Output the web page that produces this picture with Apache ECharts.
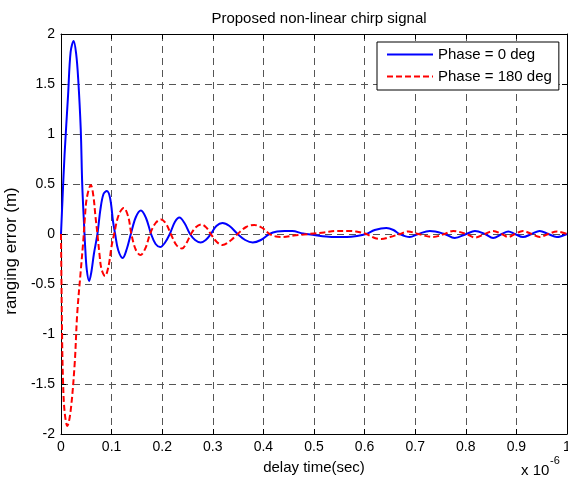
<!DOCTYPE html>
<html>
<head>
<meta charset="utf-8">
<script src="https://cdn.jsdelivr.net/npm/echarts@6/dist/echarts.min.js"></script>
<style>
  html, body { margin: 0; padding: 0; background: #fff; }
  #chart { width: 568px; height: 482px; }
</style>
</head>
<body>
<div id="chart"></div>
<script>
// delay time (x 1e-6 s) and ranging error (m)
var timeBlue = [0, 0.003, 0.007, 0.014, 0.019, 0.025, 0.030, 0.034, 0.039, 0.042, 0.0456, 0.048, 0.051, 0.0556, 0.060, 0.065, 0.072,
  0.078, 0.084, 0.0906, 0.097, 0.103, 0.107, 0.113, 0.122, 0.130, 0.138, 0.148, 0.158, 0.168, 0.178, 0.187, 0.196, 0.205, 0.215,
  0.225, 0.234, 0.244, 0.255, 0.265, 0.276, 0.286, 0.296, 0.307, 0.319, 0.333, 0.349, 0.364, 0.379, 0.395, 0.412, 0.427, 0.442,
  0.457, 0.478, 0.50, 0.524, 0.545, 0.565, 0.585, 0.603, 0.62, 0.643, 0.657, 0.669, 0.689, 0.706, 0.729, 0.758, 0.778, 0.801,
  0.818, 0.838, 0.854, 0.871, 0.884, 0.897, 0.913, 0.930, 0.946, 0.963, 0.980, 1.0];
var errBlue = [0, 0.35, 0.79, 1.39, 1.82, 1.93, 1.80, 1.55, 1.05, 0.49, 0.09, -0.15, -0.36, -0.47, -0.38, -0.2, 0,
  0.25, 0.40, 0.43, 0.36, 0.12, 0, -0.16, -0.24, -0.15, 0, 0.17, 0.235, 0.16, 0, -0.10, -0.13, -0.09, 0,
  0.12, 0.165, 0.11, 0, -0.06, -0.085, -0.06, 0, 0.08, 0.11, 0.08, 0, -0.06, -0.085, -0.06, 0, 0.025, 0.03,
  0.03, 0.005, -0.01, -0.025, -0.03, -0.03, -0.02, 0, 0.04, 0.06, 0.04, 0, -0.03, 0, 0.03, 0, -0.04, 0,
  0.03, 0, -0.04, 0, 0.025, 0, -0.03, 0, 0.03, 0, -0.03, 0];

var timeRed = [0, 0.002, 0.004, 0.007, 0.0125, 0.019, 0.027, 0.032, 0.039, 0.044, 0.047, 0.051, 0.059, 0.064, 0.068, 0.072,
  0.076, 0.080, 0.087, 0.094, 0.100, 0.105, 0.114, 0.124, 0.133, 0.139, 0.148, 0.157, 0.167, 0.176, 0.187, 0.198, 0.208, 0.217,
  0.228, 0.239, 0.248, 0.257, 0.267, 0.278, 0.288, 0.296, 0.308, 0.319, 0.334, 0.349, 0.366, 0.382, 0.398, 0.412, 0.425, 0.438,
  0.46, 0.48, 0.50, 0.52, 0.544, 0.565, 0.583, 0.603, 0.62, 0.633, 0.650, 0.67, 0.686, 0.706, 0.735, 0.758, 0.775, 0.801,
  0.818, 0.838, 0.854, 0.871, 0.884, 0.897, 0.913, 0.930, 0.946, 0.963, 0.980, 1.0];
var errRed = [0, -0.97, -1.47, -1.77, -1.92, -1.77, -1.3, -0.8, -0.37, -0.07, 0.15, 0.36, 0.49, 0.38, 0.18, 0,
  -0.2, -0.35, -0.42, -0.32, -0.12, 0, 0.19, 0.26, 0.17, 0, -0.16, -0.21, -0.14, 0, 0.11, 0.145, 0.10, 0,
  -0.11, -0.145, -0.09, 0, 0.07, 0.095, 0.06, 0, -0.08, -0.11, -0.07, 0, 0.07, 0.09, 0.06, 0, -0.025, -0.03,
  -0.015, -0.005, 0.005, 0.015, 0.03, 0.03, 0.025, 0, -0.04, -0.05, -0.03, 0, 0.025, 0, -0.03, 0, 0.03, 0,
  -0.035, 0, 0.03, 0, -0.03, 0, 0.03, 0, -0.03, 0, 0.025, 0];

var seriesNames = ['Phase = 0 deg', 'Phase = 180 deg'];

var zip = function (xs, ys) {
  var res = [];
  for (var i = 0; i < xs.length; i++) res.push([xs[i], ys[i]]);
  return res;
};

var font = "'Liberation Sans', Arial, sans-serif";
var gridLine = { show: true, lineStyle: { color: '#555', width: 1, type: [7, 5] } };
var boxLine = { onZero: false, lineStyle: { color: '#000', width: 1 } };
var tick = { inside: true, length: 5, lineStyle: { color: '#000' } };

var chart = echarts.init(document.getElementById('chart'));
var option = {
  animation: false,
  backgroundColor: '#fff',
  textStyle: { fontFamily: font, color: '#000' },
  title: {
    text: 'Proposed non-linear chirp signal',
    left: 314, top: 6, textAlign: 'center',
    textStyle: { fontFamily: font, fontSize: 15, fontWeight: 'normal', color: '#000' }
  },
  grid: { left: 61, right: 1, top: 34, bottom: 48, containLabel: false, outerBoundsMode: 'none' },
  legend: {
    data: seriesNames,
    orient: 'vertical',
    left: 377, top: 42,
    padding: [5, 7, 6, 9],
    itemGap: 7,
    itemWidth: 46,
    itemHeight: 15,
    backgroundColor: '#fff',
    borderColor: '#000',
    borderWidth: 1,
    borderRadius: 0,
    itemStyle: { opacity: 0 },
    textStyle: { fontFamily: font, fontSize: 15, color: '#000' }
  },
  xAxis: [{
    type: 'value', min: 0, max: 1, interval: 0.1,
    name: 'delay time(sec)', nameLocation: 'middle', nameGap: 26,
    nameTextStyle: { fontFamily: font, fontSize: 15, color: '#000' },
    axisLine: boxLine,
    axisTick: tick,
    axisLabel: { fontFamily: font, fontSize: 14, color: '#000', margin: 6 },
    splitLine: gridLine
  }, {
    type: 'value', min: 0, max: 1, interval: 0.1, position: 'top',
    axisLine: boxLine,
    axisTick: tick,
    axisLabel: { show: false },
    splitLine: { show: false }
  }],
  yAxis: [{
    type: 'value', min: -2, max: 2, interval: 0.5,
    name: 'ranging error (m)', nameLocation: 'middle', nameGap: 37,
    nameTextStyle: { fontFamily: font, fontSize: 17, color: '#000', padding: [0, 34, 0, 0] },
    axisLine: boxLine,
    axisTick: tick,
    axisLabel: { fontFamily: font, fontSize: 14, color: '#000', margin: 6 },
    splitLine: gridLine
  }, {
    type: 'value', min: -2, max: 2, interval: 0.5, position: 'right',
    axisLine: boxLine,
    axisTick: tick,
    axisLabel: { show: false },
    splitLine: { show: false }
  }],
  graphic: [
    { type: 'text', left: 521, top: 463, style: { text: 'x 10', font: '15px ' + font, fill: '#000' } },
    { type: 'text', left: 550, top: 455, style: { text: '-6', font: '11px ' + font, fill: '#000' } }
  ],
  series: [{
    name: seriesNames[0],
    type: 'line',
    data: zip(timeBlue, errBlue),
    showSymbol: false, symbol: 'none',
    smooth: 0.35,
    lineStyle: { color: '#0000ff', width: 2 },
    itemStyle: { color: '#0000ff' },
    z: 3
  }, {
    name: seriesNames[1],
    type: 'line',
    data: zip(timeRed, errRed),
    showSymbol: false, symbol: 'none',
    smooth: 0.35,
    lineStyle: { color: '#ff0000', width: 2, type: [6, 3] },
    itemStyle: { color: '#ff0000' },
    z: 4
  }]
};
chart.setOption(option);
window.onresize = function () { chart.resize(); };
</script>
</body>
</html>
